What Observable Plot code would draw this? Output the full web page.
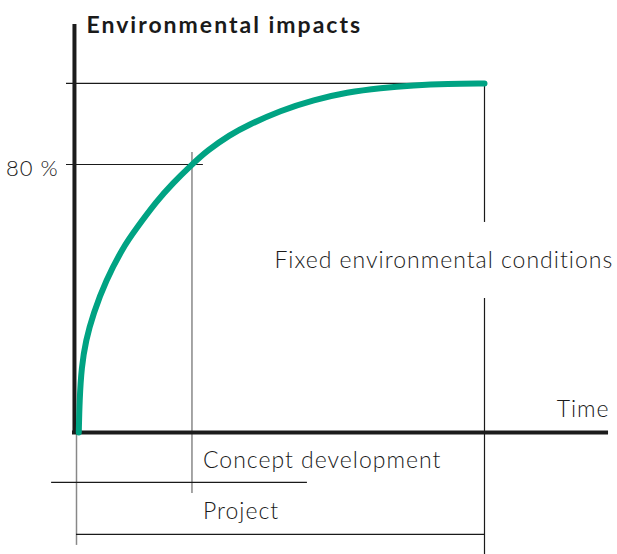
<!DOCTYPE html>
<html>
<head>
<meta charset="utf-8">
<script src="https://cdn.jsdelivr.net/npm/d3@7"></script>
<script src="https://cdn.jsdelivr.net/npm/@observablehq/plot@0.6"></script>
<style>
  html, body { margin: 0; padding: 0; background: #fff; }
  #chart svg { display: block; font-family: Lato, "Open Sans", sans-serif; }
  .lbl text { letter-spacing: 1px; }
  .ttl text { letter-spacing: 2px; }
</style>
</head>
<body>
<div id="chart"></div>
<script>
// Curve: environmental impacts over time (time 0..100 = project span, impacts in %)
const curveTime   = [0.56, 0.74, 1.23, 2.28, 4.09, 7.18, 11.45, 14.29, 19.78, 23.46, 28.3, 32.03, 37.75, 41.84, 50.0, 58.16, 66.35, 74.51, 82.67, 90.86, 100];
const curveImpact = [0, 9.55, 19.49, 27.46, 35.43, 45.37, 55.31, 60.30, 69.25, 74.24, 80.0, 84.18, 88.96, 91.64, 96.12, 99.31, 101.58, 102.87, 103.67, 104.09, 104.2];

// Reference levels and phase markers
const yTickValues = [80];
const yTickLabels = ["80 %"];
const maxImpact = 104.2;
const conceptEnd = 28.3;
const projectEnd = 100;
const timeAxisEnd = 130.4;

const axisTitle = "Environmental impacts";
const timeTitle = "Time";
const phaseLabels = ["Concept development", "Project"];
const fixedLabel = "Fixed environmental conditions";

const curve = curveTime.map((t, i) => ({t, v: curveImpact[i]}));

const W = 617, H = 554;
const x0 = 76, xs = 4.08;   // layout only
const y0 = 432, ys = 3.35;

const lblStyle = {lineAnchor: "bottom", fontSize: 23, fontWeight: 300, fill: "#1a1a1a", className: "lbl"};

const chart = Plot.plot({
  width: W,
  height: H,
  margin: 0,
  x: {domain: [-x0 / xs, (W - x0) / xs], range: [0, W], axis: null},
  y: {domain: [-(H - y0) / ys, y0 / ys], range: [H, 0], axis: null},
  marks: [
    // thin guide lines
    Plot.ruleY([maxImpact], {x1: -2.45, x2: projectEnd, stroke: "#1a1a1a", strokeWidth: 1.2}),
    Plot.ruleY(yTickValues, {x1: -2.45, x2: 31.1, stroke: "#1a1a1a", strokeWidth: 1.2}),
    Plot.ruleX([conceptEnd], {y1: 83.6, y2: -18.2, stroke: "#888", strokeWidth: 1.5}),
    Plot.ruleX([projectEnd], {y1: maxImpact, y2: 62.7, stroke: "#1a1a1a", strokeWidth: 1.2}),
    Plot.ruleX([projectEnd], {y1: 40, y2: -37, stroke: "#1a1a1a", strokeWidth: 1.2}),
    Plot.ruleX([0], {y1: 0, y2: -33.7, stroke: "#888", strokeWidth: 1.5}),
    Plot.ruleY([-14.9], {x1: -6.1, x2: 56.6, stroke: "#1a1a1a", strokeWidth: 1.2}),
    Plot.ruleY([-30.4], {x1: 0, x2: projectEnd, stroke: "#1a1a1a", strokeWidth: 1.2}),
    // axes
    Plot.ruleX([-0.5], {y1: -0.6, y2: 121.8, stroke: "#1c1c1c", strokeWidth: 4}),
    Plot.ruleY([0], {x1: -0.98, x2: timeAxisEnd, stroke: "#1c1c1c", strokeWidth: 4}),
    // curve
    Plot.line(curve, {x: "t", y: "v", stroke: "#00a383", strokeWidth: 6, curve: "basis"}),
    // texts
    Plot.text([axisTitle], {x: 2.45, y: (y0 - 32) / ys, text: d => d, textAnchor: "start", lineAnchor: "bottom", fontSize: 23, fontWeight: "bold", fill: "#1a1a1a", className: "ttl"}),
    Plot.text(yTickValues, {x: -4.4, y: d => d, dy: 11, text: (d, i) => yTickLabels[i], textAnchor: "end", ...lblStyle, fontSize: 22}),
    Plot.text([timeTitle], {x: timeAxisEnd + 0.25, y: (y0 - 416) / ys, text: d => d, textAnchor: "end", ...lblStyle}),
    Plot.text([phaseLabels[0]], {x: 31.0, y: (y0 - 467) / ys, text: d => d, textAnchor: "start", ...lblStyle}),
    Plot.text([phaseLabels[1]], {x: 31.0, y: (y0 - 518) / ys, text: d => d, textAnchor: "start", ...lblStyle}),
    Plot.text([fixedLabel], {x: 48.5, y: (y0 - 267) / ys, text: d => d, textAnchor: "start", ...lblStyle})
  ]
});
document.getElementById("chart").append(chart);
</script>
</body>
</html>
